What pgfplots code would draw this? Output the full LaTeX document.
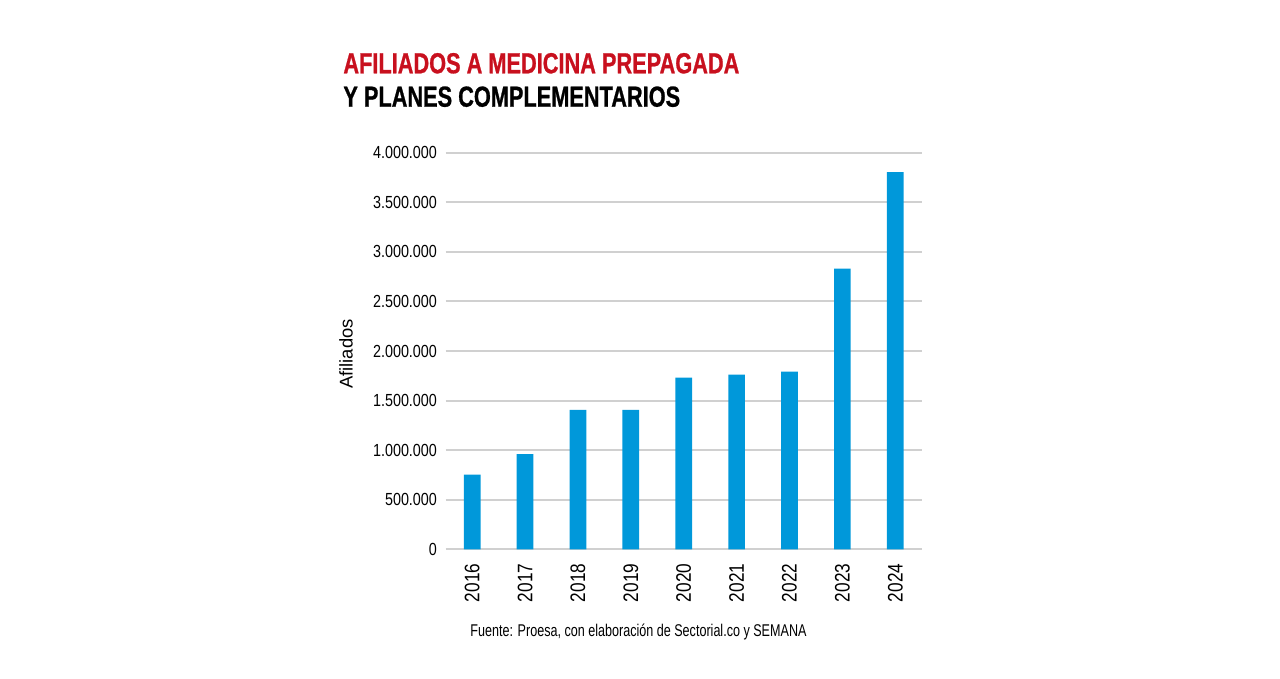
\documentclass[border=0pt]{standalone}
\usepackage{fontspec}
\setmainfont{Liberation Sans}[FakeStretch=0.82]
\newfontfamily\titlefont{Liberation Sans}[FakeStretch=0.75, BoldFeatures={FakeBold=0.8}]
\newfontfamily\srcfont{Liberation Sans}[FakeStretch=0.74]
\newfontfamily\labfont{Liberation Sans}
\usepackage{pgfplots}
\pgfplotsset{compat=1.18}

\definecolor{barblue}{RGB}{0,152,218}
\definecolor{titlered}{RGB}{200,16,30}
\definecolor{gridgray}{RGB}{208,208,208}

\begin{document}
\begin{tikzpicture}[x=0.5bp,y=0.5bp]
  % page frame in reference pixels
  \path (0,0) rectangle (1280,678);

  \node[anchor=base west, inner sep=0pt, text=titlered]
    at (343,604.7) {\titlefont\bfseries\fontsize{14.5bp}{16bp}\selectfont AFILIADOS A MEDICINA PREPAGADA};
  \node[anchor=base west, inner sep=0pt]
    at (343,571.3) {\titlefont\bfseries\fontsize{14.5bp}{16bp}\selectfont Y PLANES COMPLEMENTARIOS};

  \node[rotate=90, inner sep=0pt] at (346,324)
    {\labfont\fontsize{9.2bp}{11bp}\selectfont Afiliados};

  \node[anchor=base west, inner sep=0pt] at (470,41)
    {\srcfont\fontsize{8.5bp}{10bp}\selectfont Fuente: Proesa, con elaboración de Sectorial.co y SEMANA};

  \begin{axis}[
      at={(222.85bp,64.35bp)}, anchor=south west,
      scale only axis,
      width=238bp, height=198.3bp,
      xmin=-0.5, xmax=8.5,
      ymin=0, ymax=4000000,
      axis line style={draw=none},
      major tick length=0pt,
      ymajorgrids,
      grid style={gridgray, line width=1bp},
      ytick={0,500000,...,4000000},
      scaled y ticks=false,
      /pgf/number format/fixed,
      /pgf/number format/precision=0,
      /pgf/number format/1000 sep={.},
      /pgf/number format/assume math mode=true,
      yticklabel style={font=\fontsize{8.75bp}{10bp}\selectfont, inner sep=0pt, xshift=-4.2bp},
      xtick=data,
      xticklabels={2016,2017,2018,2019,2020,2021,2022,2023,2024},
      xticklabel style={rotate=90, anchor=east, inner sep=0pt, xshift=-7bp,
                        font=\fontsize{10.5bp}{12bp}\selectfont},
      ybar, bar width=8.35bp,
      clip=false,
    ]
    \addplot[fill=barblue, draw=none] coordinates {
      (0,752000) (1,961000) (2,1405000) (3,1405000) (4,1731000)
      (5,1761000) (6,1791000) (7,2830000) (8,3805000)
    };
  \end{axis}
\end{tikzpicture}
\end{document}
